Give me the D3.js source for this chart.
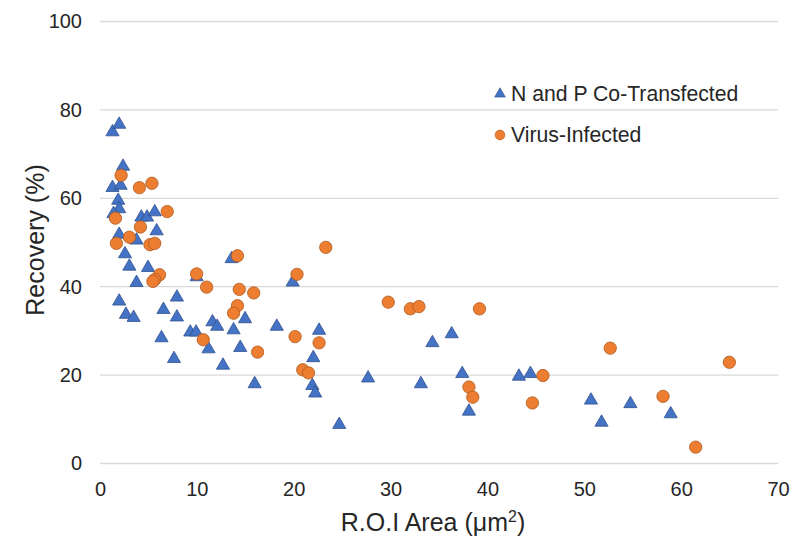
<!DOCTYPE html>
<html><head><meta charset="utf-8">
<script src="https://cdn.jsdelivr.net/npm/d3@7/dist/d3.min.js"></script>
<style>body{margin:0;background:#fff}svg{display:block}text{font-family:"Liberation Sans",Arial,sans-serif;fill:#262626}</style>
</head><body><svg id="c" width="794" height="540"></svg>
<script>
const xTicks = [0,10,20,30,40,50,60,70];
const yTicks = [0,20,40,60,80,100];
const seriesNames = ["N and P Co-Transfected","Virus-Infected"];
const npX = [1.29,1.98,2.38,1.29,2.13,1.88,1.98,1.39,4.27,4.86,5.65,5.85,1.98,3.77,2.58,3.03,4.96,3.77,1.98,2.68,3.47,7.94,6.55,7.94,6.35,7.64,9.32,9.92,9.98,11.61,12.1,13.79,14.98,14.48,11.21,12.7,13.59,15.97,18.25,19.89,22.62,22.02,21.92,22.22,27.68,24.7,34.32,36.31,33.13,37.4,38.09,43.25,44.44,50.69,54.76,51.78,58.92];
const npY = [75.0,76.7,67.2,62.4,62.9,59.5,57.6,56.5,55.7,55.7,56.9,52.6,51.8,50.5,47.4,44.6,44.3,40.9,36.7,33.7,33.0,37.6,34.8,33.1,28.4,23.7,29.7,29.7,42.2,32.0,31.0,30.2,32.7,26.2,25.9,22.2,46.3,18.0,31.0,41.0,30.1,23.9,17.6,15.9,19.3,8.8,27.3,29.3,18.0,20.3,11.8,19.7,20.3,14.3,13.5,9.3,11.2];
const viX = [2.18,4.07,5.36,6.94,1.59,4.17,3.03,1.69,5.16,5.65,6.15,5.65,5.46,9.98,11.01,14.19,14.38,15.87,14.19,13.79,10.66,16.27,20.34,23.31,20.14,22.62,20.93,21.53,29.76,32.04,32.93,39.18,38.09,38.49,45.73,44.64,52.68,64.98,58.13,61.5];
const viY = [65.2,62.4,63.4,57.0,55.5,53.5,51.2,49.8,49.5,49.8,42.7,41.6,41.2,42.9,39.9,47.0,39.4,38.6,35.7,34.0,28.0,25.2,42.8,48.9,28.7,27.3,21.2,20.5,36.5,35.0,35.5,35.0,17.3,15.0,19.9,13.7,26.1,22.9,15.2,3.7];

const svg = d3.select("#c");
const x = d3.scaleLinear().domain([0,70]).range([100,778]);
const y = d3.scaleLinear().domain([0,100]).range([463.5,21.5]);
const FONT = "Liberation Sans, Arial, sans-serif";

// gridlines
svg.append("g").selectAll("line").data(yTicks).join("line")
  .attr("x1",x(0)).attr("x2",x(70)).attr("y1",d=>y(d)).attr("y2",d=>y(d))
  .attr("stroke","#d9d9d9").attr("stroke-width",1.3);

// axes
const xa = svg.append("g").attr("transform",`translate(0,${y(0)})`)
  .call(d3.axisBottom(x).tickValues(xTicks).tickSize(0).tickPadding(18));
xa.select(".domain").remove();
xa.selectAll("text").attr("font-size",20).attr("fill","#262626").attr("font-family",FONT);
const ya = svg.append("g").attr("transform",`translate(${x(0)-10},0)`)
  .call(d3.axisLeft(y).tickValues(yTicks).tickSize(0).tickPadding(8));
ya.select(".domain").remove();
ya.selectAll("text").attr("font-size",20).attr("fill","#262626").attr("font-family",FONT);

// titles
svg.append("text").attr("x",433).attr("y",531).attr("text-anchor","middle").attr("font-size",25)
  .html('R.O.I Area (μm<tspan dy="-9" font-size="16">2</tspan><tspan dy="9">)</tspan>');
svg.append("text").attr("transform","translate(44,240) rotate(-90)").attr("text-anchor","middle")
  .attr("font-size",25).text("Recovery (%)");

const tri = d3.symbol().type(d3.symbolTriangle).size(75);
const circ = d3.symbol().type(d3.symbolCircle).size(120);
const triColor = "#4472C4", triStroke = "#2F528F";
const cirColor = "#ED7D31", cirStroke = "#AE5A21";

const npData = npX.map((v,i)=>[v,npY[i]]);
const viData = viX.map((v,i)=>[v,viY[i]]);

svg.append("g").selectAll("path").data(npData).join("path")
  .attr("d",tri).attr("transform",d=>`translate(${x(d[0])},${y(d[1])})`)
  .attr("fill",triColor).attr("stroke",triStroke).attr("stroke-width",0.8);
svg.append("g").selectAll("path").data(viData).join("path")
  .attr("d",circ).attr("transform",d=>`translate(${x(d[0])},${y(d[1])})`)
  .attr("fill",cirColor).attr("stroke",cirStroke).attr("stroke-width",0.8);

// legend
const lg = svg.append("g");
lg.append("path").attr("d",d3.symbol().type(d3.symbolTriangle).size(50)).attr("transform","translate(500,94)")
  .attr("fill",triColor).attr("stroke",triStroke).attr("stroke-width",0.6);
lg.append("text").attr("x",511).attr("y",100.5).attr("font-size",21.2).text(seriesNames[0]);
lg.append("path").attr("d",d3.symbol().type(d3.symbolCircle).size(75)).attr("transform","translate(500,135)")
  .attr("fill",cirColor).attr("stroke",cirStroke).attr("stroke-width",0.6);
lg.append("text").attr("x",511).attr("y",141.5).attr("font-size",21.2).text(seriesNames[1]);
</script></body></html>
